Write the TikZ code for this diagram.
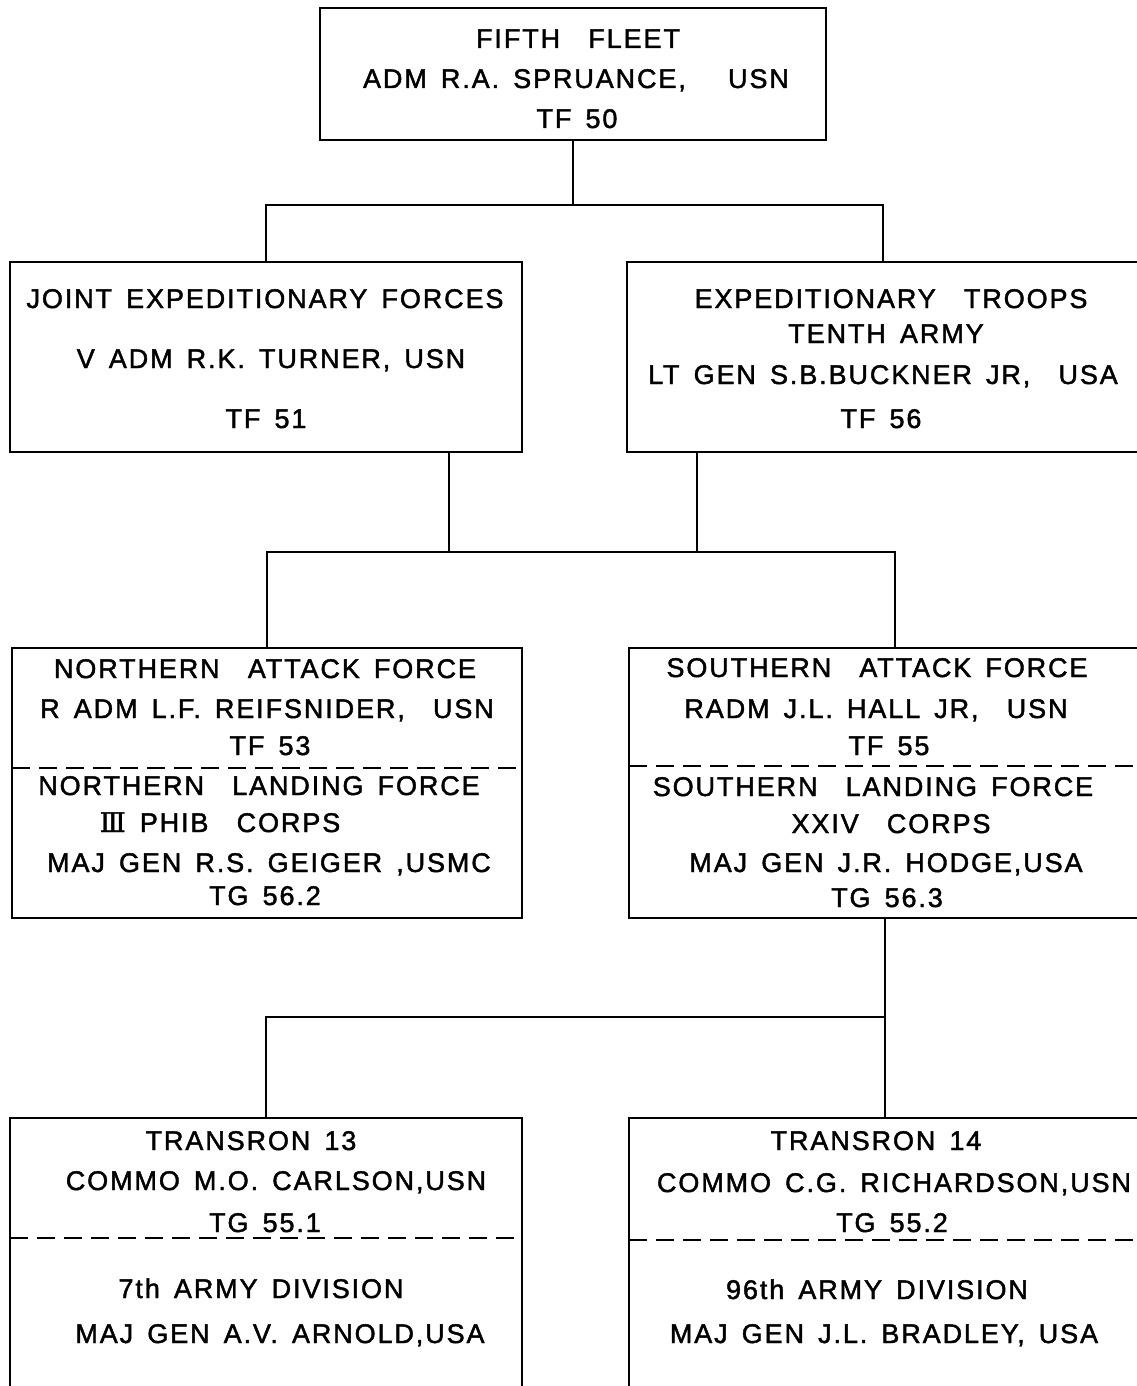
\documentclass[tikz,border=0pt]{standalone}
\usepackage{fontspec}
\setmainfont{Liberation Sans}[LetterSpace=7,WordSpace=1.5,FakeBold=1.6]
\newfontfamily\dejaserif{DejaVu Serif}[FakeBold=1.5]
\begin{document}
\begin{tikzpicture}[x=1pt,y=-1pt,
  box/.style={draw, line width=2.6pt, inner sep=0pt, outer sep=0pt},
  lbl/.style={anchor=base, inner sep=0pt, font=\fontsize{27}{30}\selectfont},
  link/.style={line width=2.6pt},
  sep/.style={line width=1.8pt, dash pattern=on 18pt off 9pt}]
\useasboundingbox (0,0) rectangle (1137,1386);
\clip (0,0) rectangle (1137,1386);
\fill[white] (0,0) rectangle (1137,1386);

% boxes
\node[box, minimum width=506pt, minimum height=132pt] (top) at (573,74) {};
\node[box, minimum width=512pt, minimum height=190pt] (L1) at (266,357) {};
\node[box, minimum width=512pt, minimum height=190pt] (R1) at (883,357) {};
\node[box, minimum width=510pt, minimum height=270pt] (L2) at (267,783) {};
\node[box, minimum width=512pt, minimum height=270pt] (R2) at (885,783) {};
\node[box, minimum width=512pt, minimum height=292pt] (L3) at (266,1264) {};
\node[box, minimum width=512pt, minimum height=292pt] (R3) at (885,1264) {};

% dashed separators
\draw[sep] (L2.west |- 0,768) -- (L2.east |- 0,768);
\draw[sep] (R2.west |- 0,766) -- (R2.east |- 0,766);
\draw[sep] (L3.west |- 0,1238) -- (L3.east |- 0,1238);
\draw[sep] (R3.west |- 0,1240) -- (R3.east |- 0,1240);

% connectors
\coordinate (j1) at (573,205);
\draw[link] (top.south) -- (j1);
\draw[link] (L1.north) |- (j1) -| (R1.north);

\coordinate (b1) at (449,552);
\coordinate (b2) at (697,552);
\coordinate (c2) at (895,552);
\draw[link] (b1 |- L1.south) -- (b1);
\draw[link] (b2 |- R1.south) -- (b2);
\draw[link] (L2.north) |- (c2) -- (c2 |- R2.north);

\coordinate (d1) at (885,1017);
\draw[link] (R2.south) -- (d1) -- (R3.north);
\draw[link] (L3.north) |- (d1);

% texts: top
\node[lbl] (t1) at (578,48) {FIFTH\ \ FLEET};
\node[lbl] (t2) at (576,88) {ADM R.A. SPRUANCE,\ \ \ USN};
\node[lbl] (t3) at (577,128) {TF 50};
% L1
\node[lbl] (a1) at (265,308) {JOINT EXPEDITIONARY FORCES};
\node[lbl] (a2) at (271,368) {V ADM R.K. TURNER, USN};
\node[lbl] (a3) at (266,428) {TF 51};
% R1
\node[lbl] (b1t) at (891,308) {EXPEDITIONARY\ \ TROOPS};
\node[lbl] (b2t) at (886,343) {TENTH ARMY};
\node[lbl] (b3t) at (883,384) {LT GEN S.B.BUCKNER JR,\ \ USA};
\node[lbl] (b4t) at (881,428) {TF 56};
% L2
\node[lbl] (n1) at (265,678) {NORTHERN\ \ ATTACK FORCE};
\node[lbl] (n2) at (267,718) {R ADM L.F. REIFSNIDER,\ \ USN};
\node[lbl] (n3) at (270,755) {TF 53};
\node[lbl] (n4) at (259,795) {NORTHERN\ \ LANDING FORCE};
\node[lbl] (n5) at (220,832) {{\dejaserif Ⅲ} PHIB\ \ CORPS};
\node[lbl] (n6) at (269,872) {MAJ GEN R.S. GEIGER ,USMC};
\node[lbl] (n7) at (265,905) {TG 56.2};
% R2
\node[lbl] (s1) at (877,677) {SOUTHERN\ \ ATTACK FORCE};
\node[lbl] (s2) at (876,718) {RADM J.L. HALL JR,\ \ USN};
\node[lbl] (s3) at (889,755) {TF 55};
\node[lbl] (s4) at (873,796) {SOUTHERN\ \ LANDING FORCE};
\node[lbl] (s5) at (891,833) {XXIV\ \ CORPS};
\node[lbl] (s6) at (886,872) {MAJ GEN\ J.R. HODGE,USA};
\node[lbl] (s7) at (887,907) {TG 56.3};
% L3
\node[lbl] (u1) at (251,1150) {TRANSRON 13};
\node[lbl] (u2) at (276,1190) {COMMO M.O. CARLSON,USN};
\node[lbl] (u3) at (265,1232) {TG 55.1};
\node[lbl] (u4) at (261,1298) {7th ARMY DIVISION};
\node[lbl] (u5) at (280,1343) {MAJ GEN\ A.V. ARNOLD,USA};
% R3
\node[lbl] (v1) at (876,1150) {TRANSRON 14};
\node[lbl] (v2) at (894,1192) {COMMO C.G. RICHARDSON,USN};
\node[lbl] (v3) at (892,1232) {TG 55.2};
\node[lbl] (v4) at (877,1299) {96th ARMY DIVISION};
\node[lbl] (v5) at (884,1343) {MAJ GEN J.L. BRADLEY, USA};
\end{tikzpicture}
\end{document}
